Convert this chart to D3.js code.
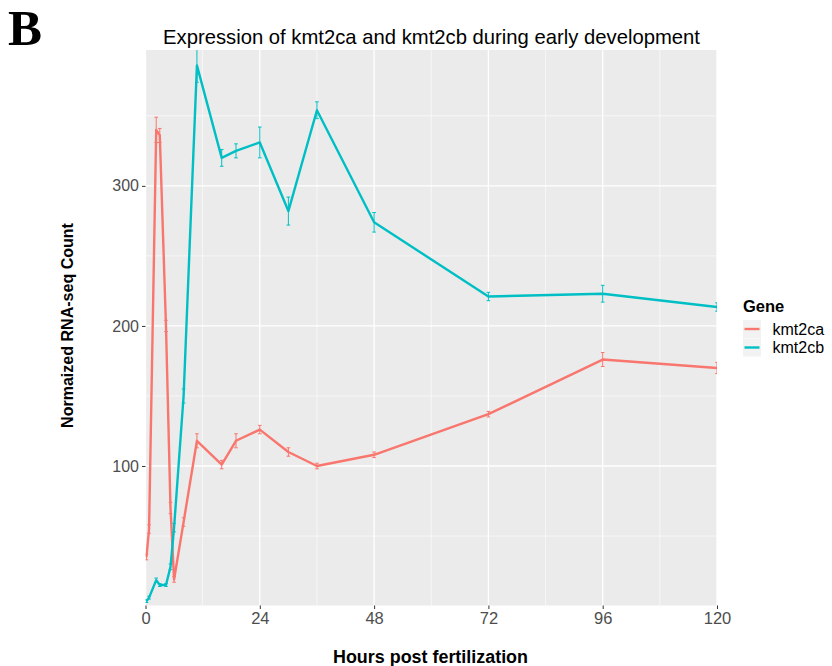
<!DOCTYPE html>
<html>
<head>
<meta charset="utf-8">
<script src="https://cdn.jsdelivr.net/npm/d3@7"></script>
<style>
html, body { margin: 0; padding: 0; background: #fff; }
svg { display: block; }
text { font-family: "Liberation Sans", Arial, sans-serif; }
</style>
</head>
<body>
<svg id="chart" width="832" height="666"></svg>
<script>
// ---- data ----
const hours = [0.2, 0.75, 2.25, 3, 4.3, 5.25, 6, 8, 10.8, 16, 19, 24, 30, 36, 48, 72, 96, 120];
const kmt2ca = [35, 55, 340, 336, 200, 70, 19, 60, 118, 101, 118, 126, 110, 100, 108, 137, 176, 170];
const kmt2caErr = [2, 3, 9, 5, 4, 4, 2, 3, 5, 3, 5, 3, 3, 2, 2, 2, 5, 4];
const kmt2cb = [3.5, 6, 18.5, 15, 15, 28, 56, 150, 386, 320, 325, 331, 282, 354, 274, 221, 223, 213.5];
const kmt2cbErr = [1, 1, 1.5, 1, 1, 2, 3, 5, 12, 6, 5, 11, 10, 6, 7, 3, 6, 3];
const genes = ["kmt2ca", "kmt2cb"];
const xTicks = [0, 24, 48, 72, 96, 120];
const xMinor = [12, 36, 60, 84, 108];
const yTicks = [100, 200, 300];
const yMinor = [50, 150, 250, 350];

const titleText = "Expression of kmt2ca and kmt2cb during early development";
const xTitle = "Hours post fertilization";
const yTitle = "Normaized RNA-seq Count";
const legendTitle = "Gene";
const panelLetter = "B";

// ---- layout ----
const svg = d3.select("#chart");
const L = 145.5, R = 717, T = 50, B = 605.5;
const x = d3.scaleLinear().domain([0, 120]).range([L, R]);
const y = d3.scaleLinear().domain([0.4, 397]).range([B, T]);
const color = d3.scaleOrdinal().domain(genes).range(["#F8766D", "#00BFC4"]);

// fit a text element to a target width by adjusting its font size
function fitWidth(sel, target) {
  const node = sel.node();
  const fs = parseFloat(sel.style("font-size"));
  const w = node.getComputedTextLength();
  if (w > 0) sel.style("font-size", (fs * target / w).toFixed(2) + "px");
  return sel;
}

const series = [
  { gene: "kmt2ca", vals: kmt2ca, err: kmt2caErr },
  { gene: "kmt2cb", vals: kmt2cb, err: kmt2cbErr }
].map(s => ({ gene: s.gene, pts: hours.map((h, i) => ({ h, v: s.vals[i], e: s.err[i] })) }));

svg.append("defs").append("clipPath").attr("id", "clip")
  .append("rect").attr("x", L).attr("y", T).attr("width", R - L).attr("height", B - T);

// panel
svg.append("rect").attr("x", L).attr("y", T).attr("width", R - L).attr("height", B - T).attr("fill", "#EBEBEB");

const grid = svg.append("g");
grid.selectAll(".xmin").data(xMinor).join("line")
  .attr("x1", d => x(d)).attr("x2", d => x(d)).attr("y1", T).attr("y2", B)
  .attr("stroke", "#fff").attr("stroke-width", 0.6);
grid.selectAll(".ymin").data(yMinor).join("line")
  .attr("y1", d => y(d)).attr("y2", d => y(d)).attr("x1", L).attr("x2", R)
  .attr("stroke", "#fff").attr("stroke-width", 0.6);
grid.selectAll(".xmaj").data(xTicks).join("line")
  .attr("x1", d => x(d)).attr("x2", d => x(d)).attr("y1", T).attr("y2", B)
  .attr("stroke", "#fff").attr("stroke-width", 1.3);
grid.selectAll(".ymaj").data(yTicks).join("line")
  .attr("y1", d => y(d)).attr("y2", d => y(d)).attr("x1", L).attr("x2", R)
  .attr("stroke", "#fff").attr("stroke-width", 1.3);

// axes
const xAxis = d3.axisBottom(x).tickValues(xTicks).tickSize(3.5).tickPadding(3).tickFormat(d3.format("d"));
const gx = svg.append("g").attr("transform", `translate(0,${B})`).call(xAxis);
gx.select(".domain").remove();
gx.selectAll(".tick line").attr("stroke", "#333").attr("stroke-width", 1);
gx.selectAll(".tick text").attr("fill", "#4D4D4D").style("font-size", "16.5px")
  .style("font-family", "'Liberation Sans', Arial, sans-serif");

const yAxis = d3.axisLeft(y).tickValues(yTicks).tickSize(3.5).tickPadding(3).tickFormat(d3.format("d"));
const gy = svg.append("g").attr("transform", `translate(${L},0)`).call(yAxis);
gy.select(".domain").remove();
gy.selectAll(".tick line").attr("stroke", "#333").attr("stroke-width", 1);
gy.selectAll(".tick text").attr("fill", "#4D4D4D").style("font-size", "16px")
  .style("font-family", "'Liberation Sans', Arial, sans-serif");

// marks
const plot = svg.append("g").attr("clip-path", "url(#clip)");
const line = d3.line().x(d => x(d.h)).y(d => y(d.v));
const capHalf = 1.8;
series.forEach(s => {
  const g = plot.append("g");
  g.selectAll(".eb").data(s.pts).join("path")
    .attr("d", d => {
      const cx = x(d.h), y1 = y(d.v - d.e), y2 = y(d.v + d.e);
      return `M${cx - capHalf},${y1}H${cx + capHalf}M${cx},${y1}V${y2}M${cx - capHalf},${y2}H${cx + capHalf}`;
    })
    .attr("fill", "none").attr("stroke", color(s.gene)).attr("stroke-width", 1);
  g.append("path").datum(s.pts).attr("d", line)
    .attr("fill", "none").attr("stroke", color(s.gene)).attr("stroke-width", 2.4)
    .attr("stroke-linejoin", "round");
});

// titles
fitWidth(svg.append("text").attr("x", 431.5).attr("y", 44).attr("text-anchor", "middle")
  .style("font-size", "17px").attr("fill", "#000").text(titleText), 537);
fitWidth(svg.append("text").attr("x", 430.5).attr("y", 663).attr("text-anchor", "middle")
  .style("font-size", "15px").style("font-weight", "bold").attr("fill", "#000").text(xTitle), 195);
fitWidth(svg.append("text").attr("transform", `translate(73,325.5) rotate(-90)`).attr("text-anchor", "middle")
  .style("font-size", "15px").style("font-weight", "bold").attr("fill", "#000").text(yTitle), 205);
svg.append("text").attr("x", 8).attr("y", 45)
  .style("font-family", "'Liberation Serif', 'Times New Roman', serif")
  .style("font-size", "51px").style("font-weight", "bold").attr("fill", "#000").text(panelLetter);

// legend
const lg = svg.append("g").attr("transform", "translate(743,0)");
lg.append("text").attr("x", 0).attr("y", 311.5).style("font-size", "16.5px").style("font-weight", "bold").text(legendTitle);
const keys = lg.selectAll(".key").data(genes).join("g")
  .attr("transform", (d, i) => `translate(0,${320 + i * 18.5})`);
keys.append("rect").attr("width", 18).attr("height", 18).attr("fill", "#F2F2F2");
keys.append("line").attr("x1", 1.5).attr("x2", 16.5).attr("y1", 9).attr("y2", 9)
  .attr("stroke", d => color(d)).attr("stroke-width", 2.4);
keys.append("text").attr("x", 29.5).attr("y", 14.5).style("font-size", "16px").attr("fill", "#000").text(d => d);
</script>
</body>
</html>
